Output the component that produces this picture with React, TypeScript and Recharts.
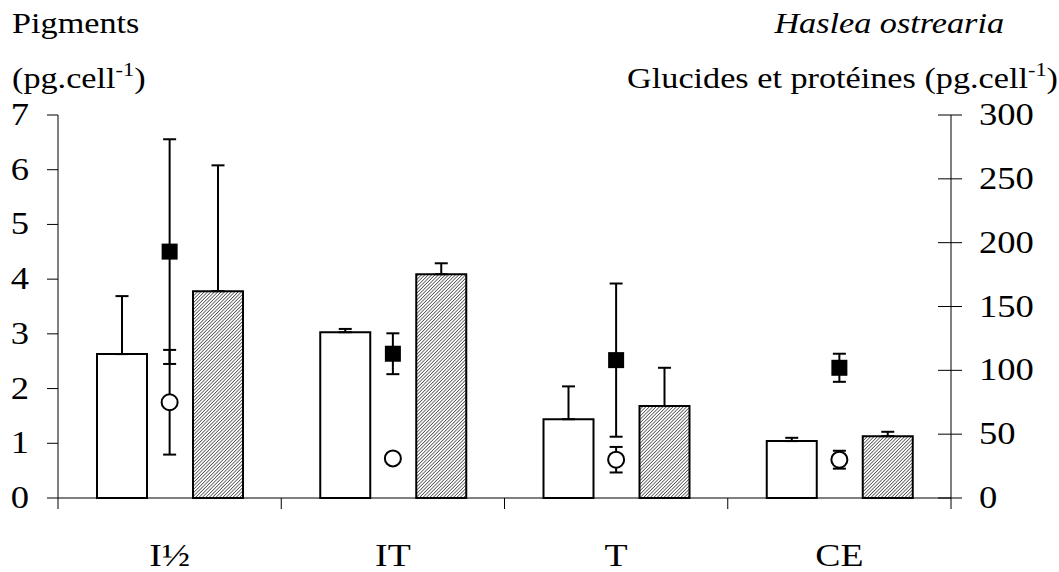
import React from "react";
import { Bar, ComposedChart, ErrorBar, Scatter, XAxis, YAxis } from "recharts";

const categories = ["I½", "IT", "T", "CE"];
// bars read on the left axis (pg.cell-1)
const whiteBar = [2.63, 3.03, 1.44, 1.04];
const whiteErr = [1.06, 0.06, 0.6, 0.06];
const hatchBar = [3.78, 4.09, 1.68, 1.13];
const hatchErr = [2.3, 0.2, 0.7, 0.08];
// markers read on the right axis
const squareVal = [193, 113, 108, 102];
const squareErr = [88, 16, 60, 11];
const circleVal = [75, 31, 30, 30];
const circleErr = [41, 3, 10, 7];
const leftTicks = [0, 1, 2, 3, 4, 5, 6, 7];
const rightTicks = [0, 50, 100, 150, 200, 250, 300];

const data = categories.map((cat, i) => ({
  cat,
  white: whiteBar[i],
  whiteErr: [0, whiteErr[i]],
  hatch: hatchBar[i],
  hatchErr: [0, hatchErr[i]],
  square: squareVal[i],
  squareErr: squareErr[i],
  circle: circleVal[i],
  circleErr: circleErr[i],
}));

const FONT = '"Liberation Serif", "Times New Roman", serif';
const SX = 1.18; // the original is stretched sideways

function SText({ x, y, size = 30, anchor = "start", italic = false, children }: any) {
  return (
    <text
      transform={`translate(${x} ${y}) scale(${SX} 1)`}
      textAnchor={anchor}
      fontSize={size}
      fontStyle={italic ? "italic" : "normal"}
      fontFamily={FONT}
      fill="#000"
    >
      {children}
    </text>
  );
}

function CatTick(props: any) {
  const { x, y, payload, index, visibleTicksCount } = props;
  const half = payload.offset ?? 0;
  return (
    <g>
      <line x1={x - half} y1={y} x2={x - half} y2={y + 11} stroke="#000" />
      {index === visibleTicksCount - 1 && (
        <line x1={x + half} y1={y} x2={x + half} y2={y + 11} stroke="#000" />
      )}
      <SText x={x} y={y + 68} size={32} anchor="middle">{payload.value}</SText>
    </g>
  );
}

function LeftTick(props: any) {
  const { x, y, payload } = props;
  return <SText x={x} y={y + 10} size={31} anchor="end">{payload.value}</SText>;
}

function RightTick(props: any) {
  const { x, y, payload } = props;
  return (
    <g>
      <line x1={x - 13} y1={y} x2={x + 11} y2={y} stroke="#000" />
      <SText x={x + 28} y={y + 10} size={31}>{payload.value}</SText>
    </g>
  );
}

const squareShape = (p: any) => <rect x={p.cx - 8} y={p.cy - 8} width={16} height={16} fill="#000" />;
const circleShape = (p: any) => (
  <circle cx={p.cx} cy={p.cy} r={8} fill="#fff" stroke="#000" strokeWidth={2} />
);

export default function App() {
  return (
    <div style={{ position: "absolute", left: 0, top: 0, width: 1059, height: 572, background: "#fff" }}>
      <ComposedChart
        width={1059}
        height={572}
        data={data}
        margin={{ top: 115, right: 28, bottom: 14, left: 10 }}
        barSize={50}
        barGap={46}
      >
        <defs>
          <pattern id="hatch" patternUnits="userSpaceOnUse" width="2.4" height="2.4" patternTransform="rotate(45)">
            <rect width="2.4" height="2.4" fill="#fff" />
            <line x1="0" y1="0" x2="0" y2="2.4" stroke="#000" strokeWidth="1.1" />
          </pattern>
        </defs>
        <XAxis
          dataKey="cat"
          height={60}
          stroke="#000"
          tickLine={false}
          tickSize={0}
          tickMargin={0}
          tick={<CatTick />}
          interval={0}
        />
        <YAxis
          yAxisId="left"
          domain={[0, 7]}
          ticks={leftTicks}
          width={48}
          stroke="#000"
          tickSize={11}
          tickMargin={18}
          tick={<LeftTick />}
          interval={0}
        />
        <YAxis
          yAxisId="right"
          orientation="right"
          domain={[0, 300]}
          ticks={rightTicks}
          width={80}
          stroke="#000"
          tickLine={false}
          tickSize={0}
          tickMargin={0}
          tick={<RightTick />}
          interval={0}
        />
        <Bar yAxisId="left" dataKey="white" fill="#fff" stroke="#000" strokeWidth={2} isAnimationActive={false}>
          <ErrorBar dataKey="whiteErr" width={6.5} stroke="#000" strokeWidth={2} direction="y" />
        </Bar>
        <Bar yAxisId="left" dataKey="hatch" fill="url(#hatch)" stroke="#000" strokeWidth={2} isAnimationActive={false}>
          <ErrorBar dataKey="hatchErr" width={6.5} stroke="#000" strokeWidth={2} direction="y" />
        </Bar>
        <Scatter yAxisId="right" dataKey="square" shape={squareShape} isAnimationActive={false}>
          <ErrorBar dataKey="squareErr" width={6.5} stroke="#000" strokeWidth={2} direction="y" />
        </Scatter>
        <Scatter yAxisId="right" dataKey="circle" shape={circleShape} isAnimationActive={false}>
          <ErrorBar dataKey="circleErr" width={6.5} stroke="#000" strokeWidth={2} direction="y" />
        </Scatter>
      </ComposedChart>
      <svg width={1059} height={572} style={{ position: "absolute", left: 0, top: 0, pointerEvents: "none" }}>
        <SText x={12} y={33} size={29}>Pigments</SText>
        <SText x={12} y={88} size={29}>
          (pg.cell<tspan dy={-12} fontSize={19}>-1</tspan>
          <tspan dy={12}>)</tspan>
        </SText>
        <SText x={1004} y={33} size={29} anchor="end" italic>Haslea ostrearia</SText>
        <SText x={1058} y={88} size={29} anchor="end">
          Glucides et protéines (pg.cell<tspan dy={-12} fontSize={19}>-1</tspan>
          <tspan dy={12}>)</tspan>
        </SText>
      </svg>
    </div>
  );
}
